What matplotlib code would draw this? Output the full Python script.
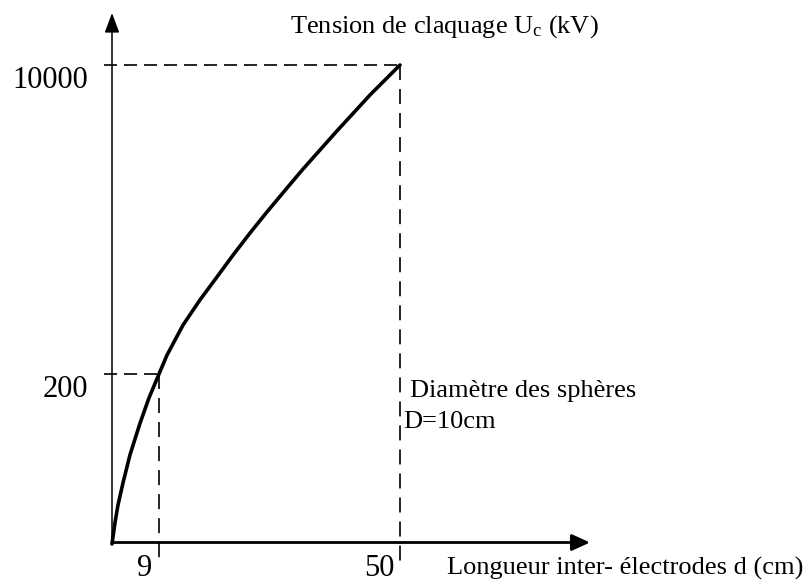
import numpy as np
import matplotlib
matplotlib.use("Agg")
import matplotlib.pyplot as plt

plt.rcParams['font.family'] = ['Liberation Serif', 'DejaVu Serif']
plt.rcParams['mathtext.fontset'] = 'custom'
plt.rcParams['mathtext.rm'] = 'Liberation Serif'
plt.rcParams['mathtext.it'] = 'Liberation Serif:italic'
plt.rcParams['lines.scale_dashes'] = False

# ---- data ----
distance_cm = [0, 0.57, 1.15, 2.11, 3.45, 5.36, 7.09, 9, 10.36, 13.08, 15.97,
               18.87, 21.59, 24.48, 27.37, 30.78, 33.50, 39.28, 44.90, 50]
tension_kv = [0, 25, 46, 72, 105, 142, 172, 200, 800, 1750, 2550,
              3280, 3970, 4670, 5340, 6100, 6700, 7910, 9050, 10000]
x_ticks = [9, 50]
x_tick_labels = ['9', '50']
y_ticks = [200, 10000]
y_tick_labels = ['200', '10000']
x_label = 'Longueur inter- électrodes d (cm)'
y_label = 'Tension de claquage U$_\\mathregular{c}$ (kV)'
note_lines = ['Diamètre des sphères', 'D=10cm']

# ---- schematic (piecewise) scales, as in the drawing ----
XD = [-100, 0, 9, 50, 200]
XP = [-100 * 47 / 9, 0, 47, 288, 288 + 150 * 241 / 41]
YD = [-1000, 0, 200, 10000, 50000]
YP = [-1000 * 170 / 200, 0, 170, 479, 479 + 40000 * 309 / 9800]

fx = lambda v: np.interp(v, XD, XP)
fx_inv = lambda p: np.interp(p, XP, XD)
fy = lambda v: np.interp(v, YD, YP)
fy_inv = lambda p: np.interp(p, YP, YD)

W, H = 809, 583
fig = plt.figure(figsize=(W / 100, H / 100), dpi=100)
ax = fig.add_axes([0, 0, 1, 1])
ax.set_xscale('function', functions=(fx, fx_inv))
ax.set_yscale('function', functions=(fy, fy_inv))
ox, oy = 112, H - 544  # origin in figure pixels
ax.set_xlim(fx_inv(-ox), fx_inv(W - ox))
ax.set_ylim(fy_inv(-oy), fy_inv(H - oy))
ax.axis('off')

# axes arrows
ax.annotate('', xy=(ox, H - 13), xytext=(ox, oy), xycoords='figure pixels',
            textcoords='figure pixels',
            arrowprops=dict(arrowstyle='-|>,head_length=12,head_width=4.5',
                            mutation_scale=1, lw=1.1, color='black',
                            shrinkA=0, shrinkB=0))
ax.annotate('', xy=(590, oy + 1.5), xytext=(ox, oy + 1.5), xycoords='figure pixels',
            textcoords='figure pixels',
            arrowprops=dict(arrowstyle='-|>,head_length=11,head_width=5',
                            mutation_scale=1, lw=2.0, color='black',
                            shrinkA=0, shrinkB=0))

# dashed guide lines
x_start = fx_inv(-8)
y_end = fy_inv(-19)
for xt, yt in zip(x_ticks, y_ticks):
    ax.plot([x_start, xt], [yt, yt], color='black', lw=1.2,
            linestyle=(0, (9.4, 5.0)), solid_capstyle='butt')
    ax.plot([xt, xt], [yt, y_end], color='black', lw=1.2,
            linestyle=(0, (10.8, 6.5)), solid_capstyle='butt')

# curve
ax.plot(distance_cm, tension_kv, color='black', lw=2.6,
        solid_joinstyle='round', solid_capstyle='round')

fs = 22
for yt, lab in zip(y_ticks, y_tick_labels):
    ax.annotate(lab, xy=(0, yt), xytext=(-24 * 0.72, -23 * 0.72),
                textcoords='offset points', ha='right', va='baseline', fontsize=fs)
x_offsets = [-14, -21]
for xt, lab, dx in zip(x_ticks, x_tick_labels, x_offsets):
    ax.annotate(lab, xy=(xt, 0), xytext=(dx * 0.72, -32 * 0.72),
                textcoords='offset points', ha='center', va='baseline', fontsize=fs)

tfs = 19
fig.text(290 / W, 1 - 33 / H, y_label, fontsize=tfs, ha='left', va='baseline')
fig.text(447 / W, 1 - 575 / H, x_label, fontsize=tfs, ha='left', va='baseline')
fig.text(410 / W, 1 - 397 / H, note_lines[0], fontsize=tfs, ha='left', va='baseline')
fig.text(403 / W, 1 - 428 / H, note_lines[1], fontsize=tfs, ha='left', va='baseline')

fig.savefig('out.png', dpi=100)
